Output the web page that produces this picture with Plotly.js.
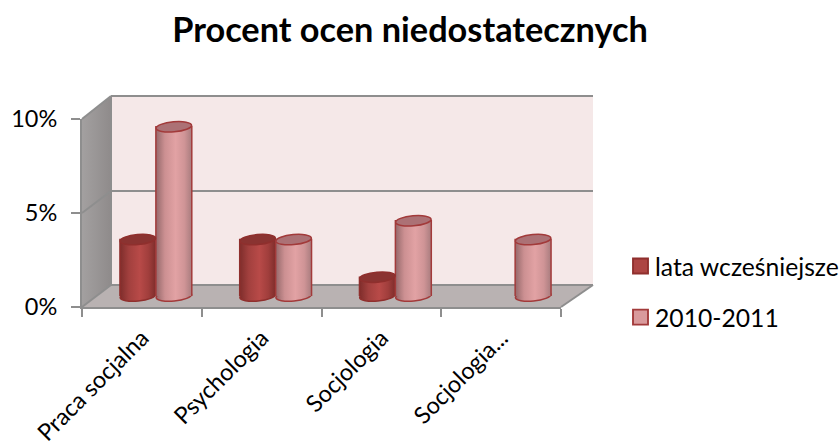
<!DOCTYPE html>
<html><head><meta charset="utf-8">
<script src="https://cdn.plot.ly/plotly-3.0.1.min.js"></script>
<style>html,body{margin:0;padding:0;background:#fff}</style></head>
<body><div id="chart" style="width:840px;height:448px"></div>
<script>
const categories = ["Praca socjalna", "Psychologia", "Socjologia", "Socjologia..."];
const earlier = [3, 3, 1, null];
const recent = [9, 3, 4, 3];
const seriesNames = ["lata wcześniejsze", "2010-2011"];
const yTickVals = [0, 5, 10];
const yTickText = ["0%", "5%", "10%"];

const W = 840, H = 448;
const px = v => v / W, py = v => 1 - v / H;
const FONT = "Lato, 'Noto Sans', sans-serif";
const AXIS = "#8e8e8e";

function polyShape(pts, fill, line, layer) {
  const path = pts.map((p, i) => (i ? "L" : "M") + px(p[0]) + "," + py(p[1])).join(" ") + " Z";
  return {type: "path", xref: "paper", yref: "paper", path, fillcolor: fill,
    line: {color: line || "rgba(0,0,0,0)", width: line ? 2 : 0}, layer: layer || "below"};
}
function segShape(a, b) {
  return {type: "line", xref: "paper", yref: "paper", x0: px(a[0]), y0: py(a[1]), x1: px(b[0]), y1: py(b[1]),
    line: {color: AXIS, width: 2}, layer: "below"};
}
function ellipsePath(cx, cy, rx, ry, tilt) {
  const k = 0.5523, c = Math.cos(tilt), s = Math.sin(tilt);
  const t = (x, y) => (cx + x * c - y * s).toFixed(2) + "," + (cy + x * s + y * c).toFixed(2);
  return "M" + t(rx, 0) +
    " C" + t(rx, k * ry) + " " + t(k * rx, ry) + " " + t(0, ry) +
    " C" + t(-k * rx, ry) + " " + t(-rx, k * ry) + " " + t(-rx, 0) +
    " C" + t(-rx, -k * ry) + " " + t(-k * rx, -ry) + " " + t(0, -ry) +
    " C" + t(k * rx, -ry) + " " + t(rx, -k * ry) + " " + t(rx, 0) + " Z";
}
function capShape(cat, value, dx, fill, line, layer) {
  return {type: "path", xref: "x2", yref: "y2", xsizemode: "pixel", ysizemode: "pixel",
    xanchor: cat, yanchor: value, path: ellipsePath(dx, 0, 17.8, 5, 0.09),
    fillcolor: fill, line: {color: line, width: 1.5}, layer};
}

const shapes = [
  polyShape([[111,96],[593,96],[593,285],[111,285]], "#f5e8e8"),
  polyShape([[82,119],[111,96],[111,285],[82,307]], "#9c9898"),
  polyShape([[82,307],[111,285],[593,285],[561,307]], "#b9b2b2"),
  segShape([111,96],[593,96]),
  segShape([111,191],[593,191]),
  segShape([111,285],[593,285]),
  segShape([111,96],[111,285]),
  segShape([82,119],[111,96]),
  segShape([82,213],[111,191]),
  segShape([82,307],[111,285]),
  segShape([561,307],[593,285])
];
const bottomDark = [], bottomLight = [];
categories.forEach((c, i) => {
  if (earlier[i] !== null) { bottomDark.push(shapes.length); shapes.push(capShape(c, 0, -18, "#ad4543", "#8f2f2d", "between")); }
  if (recent[i] !== null) { bottomLight.push(shapes.length); shapes.push(capShape(c, 0, 18, "#d99a9c", "#a23a3a", "between")); }
});
categories.forEach((c, i) => {
  if (earlier[i] !== null) shapes.push(capShape(c, earlier[i], -18, "#8a3331", "#8f2f2d", "above"));
  if (recent[i] !== null) shapes.push(capShape(c, recent[i], 18, "#ac7175", "#a23a3a", "above"));
});

const data = [
  {type: "scatter", mode: "markers", x: categories, y: categories.map(() => 0), xaxis: "x", yaxis: "y",
   marker: {opacity: 0}, showlegend: false, hoverinfo: "skip"},
  {type: "bar", name: seriesNames[0], legendgroup: "a", x: categories, y: earlier, xaxis: "x2", yaxis: "y2",
   marker: {color: "#ad4543", line: {color: "#8f2f2d", width: 1.5}}},
  {type: "bar", name: seriesNames[1], legendgroup: "b", x: categories, y: recent, xaxis: "x2", yaxis: "y2",
   marker: {color: "#d99a9c", line: {color: "#a23a3a", width: 1.5}}}
];

const PXPCT = 18.8, BASE = 296, SHIFT = 14;
const layout = {
  width: W, height: H, autosize: false,
  margin: {l: 0, r: 0, t: 0, b: 0, pad: 0, autoexpand: false},
  paper_bgcolor: "#fff", plot_bgcolor: "rgba(0,0,0,0)",
  font: {family: FONT, color: "#000"},
  title: {text: "<b>Procent ocen niedostatecznych</b>", font: {family: FONT, size: 34.3, color: "#000"},
    x: 410 / W, xanchor: "center", y: py(30), yanchor: "middle"},
  barmode: "group", bargap: 0.4, bargroupgap: 0,
  showlegend: true,
  legend: {x: px(615), y: py(292), xanchor: "left", yanchor: "middle", font: {family: FONT, size: 24.7, color: "#000"},
    bgcolor: "rgba(0,0,0,0)", itemclick: false, itemdoubleclick: false, tracegroupgap: 16},
  xaxis: {domain: [px(82), px(561)], type: "category", categoryorder: "array", categoryarray: categories,
    range: [-0.5, 3.5], tickson: "boundaries", ticks: "outside", ticklen: 8, tickwidth: 2, tickcolor: AXIS,
    tickangle: -45, tickfont: {family: FONT, size: 23.5, color: "#000"}, ticklabelstandoff: 6,
    showline: true, linecolor: AXIS, linewidth: 2, showgrid: false, zeroline: false, anchor: "y", fixedrange: true},
  yaxis: {domain: [py(307), py(119)], range: [0, 10], tickmode: "array", tickvals: yTickVals, ticktext: yTickText,
    ticks: "outside", ticklen: 9, tickwidth: 2, tickcolor: AXIS, ticklabelstandoff: 9,
    tickfont: {family: FONT, size: 23.5, color: "#000"},
    showline: true, linecolor: AXIS, linewidth: 2, showgrid: false, zeroline: false, anchor: "x", fixedrange: true},
  xaxis2: {domain: [px(82 + SHIFT), px(561 + SHIFT)], type: "category", categoryorder: "array", categoryarray: categories,
    range: [-0.5, 3.5], visible: false, anchor: "y2", fixedrange: true},
  yaxis2: {domain: [py(BASE + PXPCT), py(BASE - 11 * PXPCT)], range: [-1, 11], visible: false, anchor: "x2", fixedrange: true},
  shapes
};

Plotly.newPlot("chart", data, layout, {displayModeBar: false, staticPlot: true}).then(gd => {
  const svg = gd.querySelector("svg.main-svg");
  const NS = "http://www.w3.org/2000/svg";
  let defs = svg.querySelector("defs");
  function grad(id, stops) {
    const g = document.createElementNS(NS, "linearGradient");
    g.setAttribute("id", id);
    stops.forEach(s => {
      const st = document.createElementNS(NS, "stop");
      st.setAttribute("offset", s[0]); st.setAttribute("stop-color", s[1]);
      g.appendChild(st);
    });
    defs.appendChild(g);
  }
  grad("gDark", [[0, "#7e2d2b"], [0.25, "#a2403e"], [0.55, "#b84a48"], [0.8, "#a03e3c"], [1, "#7e2d2b"]]);
  grad("gLight", [[0, "#94686a"], [0.25, "#cc9092"], [0.55, "#e2a2a4"], [0.8, "#cf9496"], [1, "#a87c7e"]]);
  grad("gWall", [[0, "#a3a0a0"], [1, "#8f8b8b"]]);
  const traces = gd.querySelectorAll(".barlayer .trace");
  traces.forEach((t, i) => t.querySelectorAll("path").forEach(p => {
    p.style.fill = "url(#" + (i === 0 ? "gDark" : "gLight") + ")";
    const b = p.getBBox();
    if (b.width > 0 && b.height > 0) {
      p.style.strokeDasharray = (2 * b.height + b.width) + " " + b.width;
    }
  }));
  const setFill = (idx, id) => gd.querySelectorAll('path[data-index="' + idx + '"]').forEach(p => { p.style.fill = "url(#" + id + ")"; });
  bottomDark.forEach(i => setFill(i, "gDark"));
  bottomLight.forEach(i => setFill(i, "gLight"));
  setFill(1, "gWall");
  gd.querySelectorAll(".legend .legendpoints path").forEach(p => {
    p.setAttribute("transform", "translate(25.5,0) scale(1.25)");
  });
});
</script></body></html>
